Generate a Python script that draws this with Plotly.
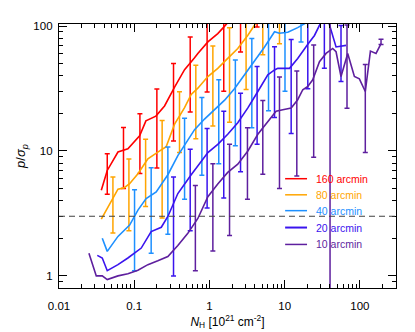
import plotly.graph_objects as go

# column density N_H [1e21 cm^-2] and p/sigma_p, one curve per smoothing scale
n_160 = [0.0365, 0.0438, 0.0608, 0.0824, 0.118, 0.143, 0.194, 0.253, 0.344, 0.467, 0.634, 0.701, 0.953, 1.29, 1.55, 2.2, 3.2, 4.4]
p_160 = [4.84, 6.98, 9.8, 10.4, 13.2, 17.4, 19.0, 22.9, 32.4, 44.7, 55.7, 60.3, 74.6, 87.0, 98.0, 125, 150, 175]

n_80 = [0.0365, 0.0448, 0.0608, 0.073, 0.0868, 0.112, 0.152, 0.206, 0.266, 0.344, 0.467, 0.572, 0.701, 0.953, 1.29, 1.75, 2.38, 3.24, 3.9, 5.0, 8.5]
p_80 = [2.85, 3.57, 4.95, 5.06, 5.47, 6.57, 8.64, 9.77, 10.8, 16.4, 22.2, 28.3, 31.8, 39.4, 45.8, 55.0, 66.1, 84.4, 101, 125, 150]

n_40 = [0.0376, 0.0438, 0.0608, 0.0869, 0.112, 0.144, 0.196, 0.28, 0.38, 0.467, 0.634, 0.86, 1.17, 1.59, 2.15, 2.92, 3.97, 5.4, 7.33, 8.5, 11.0, 14.9, 20.3]
p_40 = [2.0, 1.57, 2.07, 2.55, 3.36, 4.16, 4.70, 6.45, 9.18, 11.2, 14.8, 18.0, 21.5, 25.5, 31.5, 40.5, 52.0, 68.0, 90.0, 87.5, 89.0, 97.0, 108]

n_20 = [0.0323, 0.0376, 0.0438, 0.0608, 0.0824, 0.124, 0.168, 0.229, 0.28, 0.38, 0.572, 0.701, 0.953, 1.29, 1.75, 2.38, 3.24, 4.4, 5.97, 7.33, 8.1, 11.6, 14.9, 20.3, 24.9, 29.0, 35.0, 48.2, 65.3]
p_20 = [1.46, 1.39, 1.10, 1.23, 1.39, 1.67, 2.26, 2.45, 2.99, 4.56, 6.45, 7.6, 9.7, 11.3, 13.6, 16.8, 22.1, 29.9, 40.6, 44.5, 45.8, 45.8, 55.0, 71.5, 84.0, 101, 130, 68.0, 70.0]

n_10 = [0.025, 0.0313, 0.0376, 0.0438, 0.0608, 0.0824, 0.112, 0.152, 0.206, 0.28, 0.38, 0.516, 0.701, 0.953, 1.29, 1.75, 2.38, 3.24, 4.4, 5.97, 7.69, 9.44, 12.2, 14.9, 17.4, 20.3, 23.6, 29.0, 35.5, 43.5, 48.2, 56.1, 68.9, 84.5, 98.4, 118, 138, 164, 191]
p_10 = [1.52, 1.0, 1.0, 0.935, 1.0, 1.04, 1.11, 1.23, 1.32, 1.43, 1.75, 2.19, 2.88, 4.3, 5.44, 6.73, 7.84, 10.0, 13.6, 17.3, 20.8, 21.4, 22.1, 25.7, 30.9, 32.8, 37.1, 51.8, 60.3, 66.1, 62.2, 39.4, 60.3, 39.4, 37.8, 29.9, 63.0, 60.3, 72.4]

# error bars (every third bin)
nb_160 = [0.0438, 0.072, 0.119, 0.2, 0.333, 0.555, 0.931, 1.55, 2.59, 4.3]
pb_160 = [7.0, 10.2, 13.2, 19.3, 31.0, 51.0, 74.6, 98.0, 125, 160]
eb_160 = [2.5, 5.2, 6.6, 12.0, 19.0, 30.5, 45.0, 68.0, 63.0, 62.0]

nb_80 = [0.0521, 0.085, 0.1417, 0.235, 0.40, 0.659, 1.11, 1.85, 3.07, 5.12, 8.53]
pb_80 = [4.2, 5.45, 8.0, 10.2, 19.7, 30.5, 42.5, 57.0, 88.0, 125, 150]
eb_80 = [2.0, 3.15, 4.4, 7.3, 10.0, 18.0, 26.7, 40.0, 57.0, 66.0, 78.0]

nb_40 = [0.101, 0.168, 0.28, 0.467, 0.793, 1.33, 2.21, 3.66, 6.1, 10.1, 16.5]
pb_40 = [3.0, 4.42, 6.45, 11.2, 16.6, 22.5, 32.2, 47.3, 78.0, 88.0, 98.0]
eb_40 = [1.9, 2.9, 4.3, 7.1, 10.2, 14.6, 21.2, 32.0, 57.0, 58.0, 23.5]

nb_20 = [0.333, 0.555, 0.931, 1.55, 2.59, 4.3, 7.33, 12.2, 20.3, 33.7, 56.1]
pb_20 = [3.6, 6.3, 9.3, 12.5, 17.9, 29.3, 43.3, 45.8, 71.5, 125, 68.5]
eb_20 = [2.6, 4.0, 5.8, 8.3, 11.1, 18.0, 24.8, 32.0, 40.0, 79.0, 32.5]

nb_10 = [0.65, 1.11, 1.85, 3.2, 5.12, 8.53, 14.5, 24.3, 40.1, 67.4, 118, 191]
pb_10 = [3.2, 4.73, 6.7, 9.7, 15.9, 22.0, 25.0, 39.6, 63.0, 62.0, 29.5, 74.7]
eb_10 = [2.1, 3.15, 4.6, 5.6, 9.4, 17.0, 18.7, 30.7, 70.0, 40.0, 19.8, 3.5]

labels = ["160 arcmin", "80 arcmin", "40 arcmin", "20 arcmin", "10 arcmin"]
colors = ["#ff0000", "#ffa500", "#1e90ff", "#3a14ee", "#5e1f9e"]

series = [
    (n_160, p_160, nb_160, pb_160, eb_160),
    (n_80, p_80, nb_80, pb_80, eb_80),
    (n_40, p_40, nb_40, pb_40, eb_40),
    (n_20, p_20, nb_20, pb_20, eb_20),
    (n_10, p_10, nb_10, pb_10, eb_10),
]

fig = go.Figure()
for (n, p, nb, pb, eb), c in zip(series, colors):
    fig.add_trace(go.Scatter(x=n, y=p, mode="lines", line=dict(color=c, width=1.6),
                             showlegend=False, hoverinfo="skip"))
    fig.add_trace(go.Scatter(x=nb, y=pb, mode="markers", marker=dict(size=2, color=c, opacity=0),
                             error_y=dict(type="data", array=eb, symmetric=True, color=c,
                                          thickness=1.5, width=2.5),
                             showlegend=False, hoverinfo="skip"))

# threshold p/sigma_p = 3
fig.add_shape(type="line", xref="paper", x0=0, x1=1, yref="y", y0=3, y1=3,
              line=dict(color="#404040", width=1.2, dash="6px,4px"))

# legend drawn by hand so each label has its own colour
leg_y = [0.414, 0.353, 0.293, 0.229, 0.165]
for lab, c, yy in zip(labels, colors, leg_y):
    fig.add_shape(type="line", xref="paper", yref="paper", x0=0.671, x1=0.736, y0=yy, y1=yy,
                  line=dict(color=c, width=2 if c == "#3a14ee" else 1.5))
    fig.add_annotation(x=0.757, y=yy, xref="paper", yref="paper", text=lab, showarrow=False,
                       xanchor="left", yanchor="middle", font=dict(size=10.5, color=c))

minor_vals = [m * 10 ** k for k in range(-3, 4) for m in range(2, 10)]

axis_style = dict(type="log", showline=True, linecolor="black", linewidth=1.3, mirror="ticks",
                  ticks="inside", ticklen=8, tickwidth=1.2, tickcolor="black",
                  showgrid=False, zeroline=False,
                  minor=dict(ticks="inside", ticklen=4, tickwidth=1, tickcolor="black",
                             tickmode="array", tickvals=minor_vals, showgrid=False))

fig.update_layout(
    width=415, height=332,
    margin=dict(l=51, r=27, t=14, b=52),
    paper_bgcolor="white", plot_bgcolor="white",
    font=dict(family="Liberation Sans, Arial, sans-serif", size=11.5, color="black"),
    xaxis=dict(axis_style, range=[-2, 2.48],
               tickmode="array", tickvals=[0.01, 0.1, 1, 10, 100],
               ticktext=["0.01", "0.1", "1", "10", "100"], ticklabelstandoff=7,
               title=dict(text="<i>N</i><sub>H</sub> [10<sup>21</sup> cm<sup>-2</sup>]",
                          font=dict(size=12), standoff=6)),
    yaxis=dict(axis_style, range=[-0.097, 2.016],
               tickmode="array", tickvals=[1, 10, 100], ticktext=["1", "10", "100"],
               ticklabelstandoff=3,
               title=dict(text="<i>p</i>/<i>σ</i><sub><i>p</i></sub>", font=dict(size=13), standoff=4)),
)

fig.write_html("out.html")
